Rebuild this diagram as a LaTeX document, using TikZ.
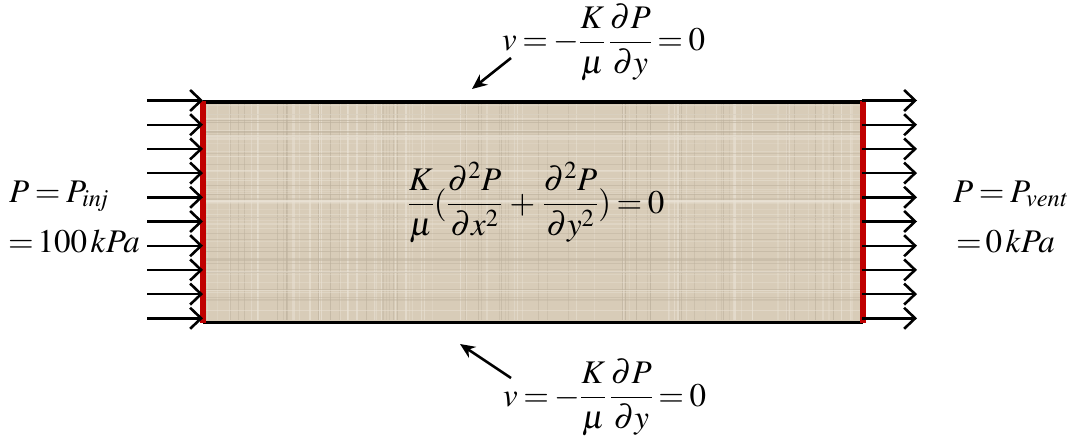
\documentclass[tikz,border=0pt]{standalone}
\usepackage{amsmath}
\usepackage{mathptmx}
\usetikzlibrary{arrows.meta}
\definecolor{sand}{RGB}{216,204,184}
\definecolor{sanddark}{RGB}{188,176,156}
\definecolor{sandlight}{RGB}{234,227,214}
\definecolor{wallred}{RGB}{192,0,0}
\newcommand\tightmath{\thickmuskip=3mu\medmuskip=4mu\relax}
\tikzset{
  flowarrow/.style={line width=2.4pt,-{Straight Barb[length=11pt,width=21pt,line width=2.6pt]}},
  pointer/.style={line width=2.6pt,-{Stealth[length=15pt,width=13pt]}},
  wall/.style={line width=3.2pt,black},
  redwall/.style={line width=6pt,wallred},
  lbl/.style={inner sep=0pt,font={\fontsize{33}{38}\selectfont\tightmath}}
}
\begin{document}
\begin{tikzpicture}[x=1pt,y=-1pt]
\useasboundingbox (0,0) rectangle (1067,444);
% domain
\node[fill=sand,minimum width=660pt,minimum height=220pt,inner sep=0pt,anchor=north west] (domain) at (203,102) {};
\pgfmathsetseed{7}
\foreach \i in {1,...,110}{
  \pgfmathsetmacro{\xx}{205+rnd*656}
  \pgfmathsetmacro{\op}{0.25+0.4*rnd}
  \pgfmathparse{rnd>0.5?1:0}
  \ifnum\pgfmathresult=1
    \draw[sanddark,line width=0.8pt,opacity=\op] (\xx,104) -- (\xx,320);
  \else
    \draw[sandlight,line width=1.3pt,opacity=\op] (\xx,104) -- (\xx,320);
  \fi
}
\foreach \i in {1,...,70}{
  \pgfmathsetmacro{\yy}{104+rnd*216}
  \pgfmathsetmacro{\op}{0.25+0.4*rnd}
  \pgfmathparse{rnd>0.5?1:0}
  \ifnum\pgfmathresult=1
    \draw[sanddark,line width=0.8pt,opacity=\op] (205,\yy) -- (861,\yy);
  \else
    \draw[sandlight,line width=1.3pt,opacity=\op] (205,\yy) -- (861,\yy);
  \fi
}
% walls
\draw[wall] (domain.north west) -- (domain.north east);
\draw[wall] (domain.south west) -- (domain.south east);
\draw[redwall] ([yshift=1pt]domain.north west) -- ([yshift=-1pt]domain.south west);
\draw[redwall] ([yshift=1pt]domain.north east) -- ([yshift=-1pt]domain.south east);
% inflow / outflow arrows
\foreach \k in {0,...,9}{
  \pgfmathsetmacro{\yy}{100.5+\k*24.2}
  \coordinate (inS\k) at (147,\yy);
  \coordinate (inE\k) at (203,\yy);
  \coordinate (outS\k) at (862,\yy);
  \coordinate (outE\k) at (917,\yy);
  \draw[flowarrow] (inS\k) -- (inE\k);
  \draw[flowarrow] (outS\k) -- (outE\k);
}
% labels
\node[lbl,anchor=base west] (pinj) at (9,202) {$P=P_{\mathit{inj}}$};
\node[lbl,anchor=base west] (pinjv) at (8,252) {${=}\,100\,kPa$};
\node[lbl,anchor=base west] (pvent) at (953,202) {$P=P_{\mathit{vent}}$};
\node[lbl,anchor=base west] (pventv) at (956,252) {${=}\,0\,kPa$};
\node[lbl,anchor=base] (lap) at (536,213) {$\dfrac{K}{\mu}(\dfrac{\partial^2 P}{\partial x^2}+\dfrac{\partial^2 P}{\partial y^2})=0$};
\node[lbl,anchor=base west] (topbc) at (502,51) {$v=-\dfrac{K}{\mu}\,\dfrac{\partial P}{\partial y}=0$};
\node[lbl,anchor=base west] (botbc) at (503,406) {$v=-\dfrac{K}{\mu}\,\dfrac{\partial P}{\partial y}=0$};
% pointers
\coordinate (topStart) at (511,58);
\coordinate (topTip) at (472,89);
\coordinate (botStart) at (511,378);
\coordinate (botTip) at (460,344);
\draw[pointer] (topStart) -- (topTip);
\draw[pointer] (botStart) -- (botTip);
\end{tikzpicture}
\end{document}
